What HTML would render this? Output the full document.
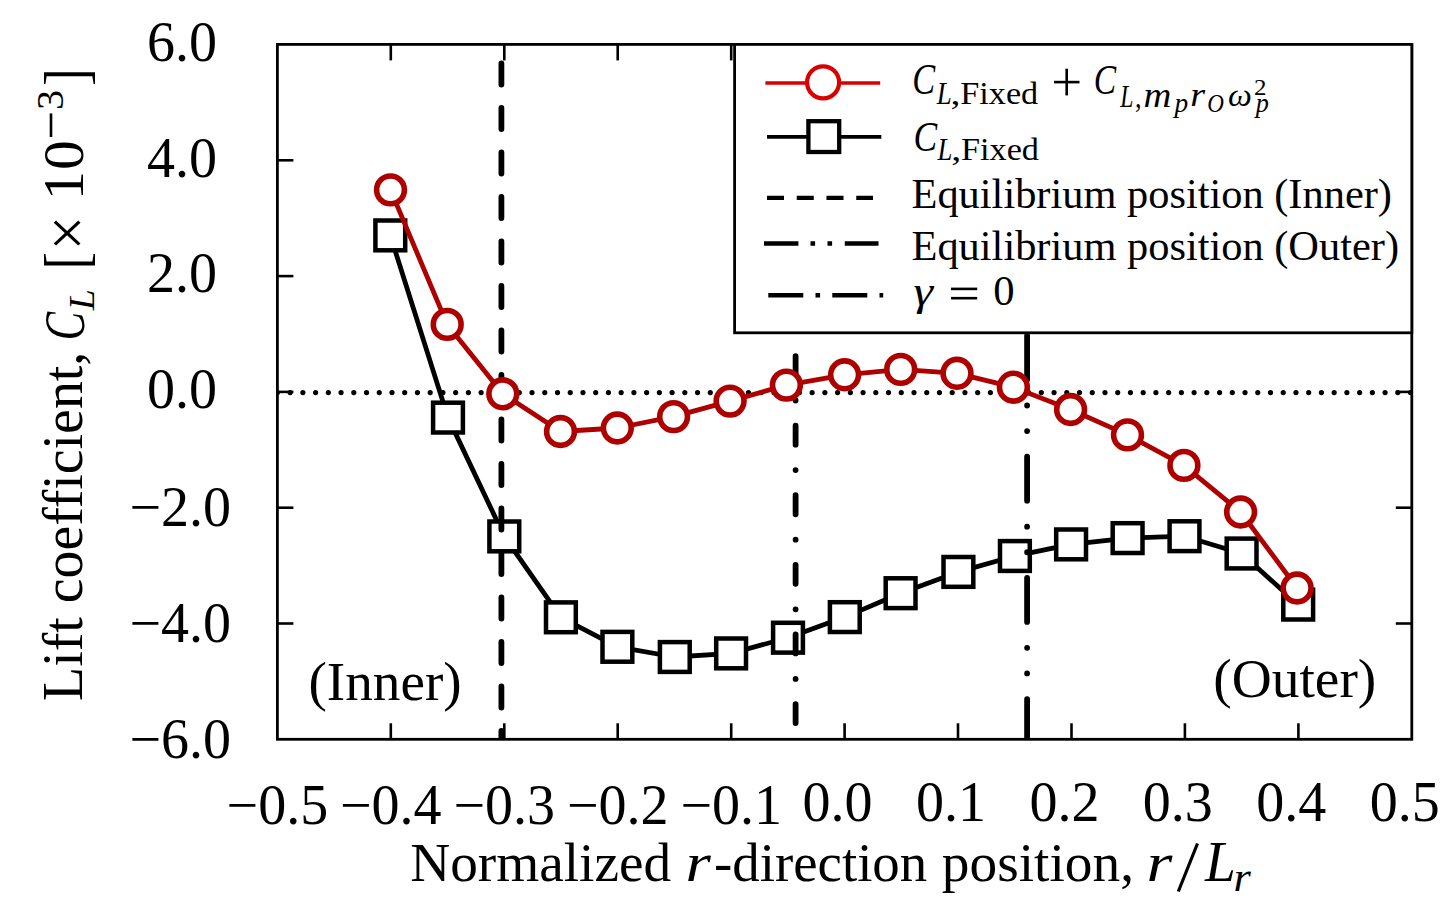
<!DOCTYPE html><html><head><meta charset="utf-8"><style>html,body{margin:0;padding:0;background:#fff;overflow:hidden;}svg{display:block;}text{font-family:"Liberation Serif",serif;fill:#000;}</style></head><body>
<svg width="1449" height="914" viewBox="0 0 1449 914">
<defs><clipPath id="pc"><rect x="277.4" y="44.4" width="1134.4" height="694.9"/></clipPath></defs>
<rect width="1449" height="914" fill="#fff"/>
<g clip-path="url(#pc)">
<line x1="277.4" y1="392.6" x2="1411.8" y2="392.6" stroke="#000" stroke-width="5.2" stroke-linecap="round" stroke-dasharray="0.01 12.722"/>
<polyline points="390.3,235.4 448.0,417.6 504.3,536.4 560.9,617.3 617.4,646.8 674.8,657.0 731.1,653.4 788.0,637.7 844.8,617.1 900.6,593.2 958.4,571.9 1014.9,556.0 1071.1,544.4 1127.6,538.1 1184.5,536.2 1241.6,553.5 1298.2,604.6" fill="none" stroke="#000" stroke-width="4.8" stroke-linejoin="round"/>
<rect x="375.4" y="220.5" width="29.8" height="29.8" fill="#fff" stroke="#000" stroke-width="4.5"/>
<rect x="433.1" y="402.7" width="29.8" height="29.8" fill="#fff" stroke="#000" stroke-width="4.5"/>
<rect x="489.4" y="521.5" width="29.8" height="29.8" fill="#fff" stroke="#000" stroke-width="4.5"/>
<rect x="546.0" y="602.4" width="29.8" height="29.8" fill="#fff" stroke="#000" stroke-width="4.5"/>
<rect x="602.5" y="631.9" width="29.8" height="29.8" fill="#fff" stroke="#000" stroke-width="4.5"/>
<rect x="659.9" y="642.1" width="29.8" height="29.8" fill="#fff" stroke="#000" stroke-width="4.5"/>
<rect x="716.2" y="638.5" width="29.8" height="29.8" fill="#fff" stroke="#000" stroke-width="4.5"/>
<rect x="773.1" y="622.8" width="29.8" height="29.8" fill="#fff" stroke="#000" stroke-width="4.5"/>
<rect x="829.9" y="602.2" width="29.8" height="29.8" fill="#fff" stroke="#000" stroke-width="4.5"/>
<rect x="885.7" y="578.3" width="29.8" height="29.8" fill="#fff" stroke="#000" stroke-width="4.5"/>
<rect x="943.5" y="557.0" width="29.8" height="29.8" fill="#fff" stroke="#000" stroke-width="4.5"/>
<rect x="1000.0" y="541.1" width="29.8" height="29.8" fill="#fff" stroke="#000" stroke-width="4.5"/>
<rect x="1056.2" y="529.5" width="29.8" height="29.8" fill="#fff" stroke="#000" stroke-width="4.5"/>
<rect x="1112.7" y="523.2" width="29.8" height="29.8" fill="#fff" stroke="#000" stroke-width="4.5"/>
<rect x="1169.6" y="521.3" width="29.8" height="29.8" fill="#fff" stroke="#000" stroke-width="4.5"/>
<rect x="1226.7" y="538.6" width="29.8" height="29.8" fill="#fff" stroke="#000" stroke-width="4.5"/>
<rect x="1283.3" y="589.7" width="29.8" height="29.8" fill="#fff" stroke="#000" stroke-width="4.5"/>
<line x1="501.4" y1="63.5" x2="501.4" y2="742.3" stroke="#000" stroke-width="5.8" stroke-linecap="round" stroke-dasharray="21 23.5"/>
<line x1="795.6" y1="77.65" x2="795.6" y2="739.3" stroke="#000" stroke-width="5.8" stroke-linecap="round" stroke-dasharray="19 25.45 0.01 25.14"/>
<line x1="1027.1" y1="93.15" x2="1027.1" y2="742.3" stroke="#000" stroke-width="5.8" stroke-linecap="round" stroke-dasharray="44 25.95 0.01 25.59 0.01 25.63"/>
<polyline points="390.5,189.9 447.2,324.4 502.8,393.8 560.5,431.5 617.3,428.0 673.6,416.6 730.1,401.1 786.4,385.1 844.6,374.8 900.7,369.4 957.0,373.3 1013.4,387.2 1070.6,409.5 1127.5,434.9 1183.9,465.4 1240.6,512.0 1297.1,588.0" fill="none" stroke="#af0000" stroke-width="4.8" stroke-linejoin="round"/>
<circle cx="390.5" cy="189.9" r="13.9" fill="#fff" stroke="#af0000" stroke-width="5.6"/>
<circle cx="447.2" cy="324.4" r="13.9" fill="#fff" stroke="#af0000" stroke-width="5.6"/>
<circle cx="502.8" cy="393.8" r="13.9" fill="#fff" stroke="#af0000" stroke-width="5.6"/>
<circle cx="560.5" cy="431.5" r="13.9" fill="#fff" stroke="#af0000" stroke-width="5.6"/>
<circle cx="617.3" cy="428.0" r="13.9" fill="#fff" stroke="#af0000" stroke-width="5.6"/>
<circle cx="673.6" cy="416.6" r="13.9" fill="#fff" stroke="#af0000" stroke-width="5.6"/>
<circle cx="730.1" cy="401.1" r="13.9" fill="#fff" stroke="#af0000" stroke-width="5.6"/>
<circle cx="786.4" cy="385.1" r="13.9" fill="#fff" stroke="#af0000" stroke-width="5.6"/>
<circle cx="844.6" cy="374.8" r="13.9" fill="#fff" stroke="#af0000" stroke-width="5.6"/>
<circle cx="900.7" cy="369.4" r="13.9" fill="#fff" stroke="#af0000" stroke-width="5.6"/>
<circle cx="957.0" cy="373.3" r="13.9" fill="#fff" stroke="#af0000" stroke-width="5.6"/>
<circle cx="1013.4" cy="387.2" r="13.9" fill="#fff" stroke="#af0000" stroke-width="5.6"/>
<circle cx="1070.6" cy="409.5" r="13.9" fill="#fff" stroke="#af0000" stroke-width="5.6"/>
<circle cx="1127.5" cy="434.9" r="13.9" fill="#fff" stroke="#af0000" stroke-width="5.6"/>
<circle cx="1183.9" cy="465.4" r="13.9" fill="#fff" stroke="#af0000" stroke-width="5.6"/>
<circle cx="1240.6" cy="512.0" r="13.9" fill="#fff" stroke="#af0000" stroke-width="5.6"/>
<circle cx="1297.1" cy="588.0" r="13.9" fill="#fff" stroke="#af0000" stroke-width="5.6"/>
</g>
<rect x="277.4" y="44.4" width="1134.4" height="694.9" fill="none" stroke="#000" stroke-width="2.8"/>
<line x1="390.8" y1="44.4" x2="390.8" y2="60.4" stroke="#000" stroke-width="2.6"/>
<line x1="390.8" y1="739.3" x2="390.8" y2="723.3" stroke="#000" stroke-width="2.6"/>
<line x1="504.3" y1="44.4" x2="504.3" y2="60.4" stroke="#000" stroke-width="2.6"/>
<line x1="504.3" y1="739.3" x2="504.3" y2="723.3" stroke="#000" stroke-width="2.6"/>
<line x1="617.7" y1="44.4" x2="617.7" y2="60.4" stroke="#000" stroke-width="2.6"/>
<line x1="617.7" y1="739.3" x2="617.7" y2="723.3" stroke="#000" stroke-width="2.6"/>
<line x1="731.2" y1="44.4" x2="731.2" y2="60.4" stroke="#000" stroke-width="2.6"/>
<line x1="731.2" y1="739.3" x2="731.2" y2="723.3" stroke="#000" stroke-width="2.6"/>
<line x1="844.6" y1="44.4" x2="844.6" y2="60.4" stroke="#000" stroke-width="2.6"/>
<line x1="844.6" y1="739.3" x2="844.6" y2="723.3" stroke="#000" stroke-width="2.6"/>
<line x1="958.0" y1="44.4" x2="958.0" y2="60.4" stroke="#000" stroke-width="2.6"/>
<line x1="958.0" y1="739.3" x2="958.0" y2="723.3" stroke="#000" stroke-width="2.6"/>
<line x1="1071.5" y1="44.4" x2="1071.5" y2="60.4" stroke="#000" stroke-width="2.6"/>
<line x1="1071.5" y1="739.3" x2="1071.5" y2="723.3" stroke="#000" stroke-width="2.6"/>
<line x1="1184.9" y1="44.4" x2="1184.9" y2="60.4" stroke="#000" stroke-width="2.6"/>
<line x1="1184.9" y1="739.3" x2="1184.9" y2="723.3" stroke="#000" stroke-width="2.6"/>
<line x1="1298.4" y1="44.4" x2="1298.4" y2="60.4" stroke="#000" stroke-width="2.6"/>
<line x1="1298.4" y1="739.3" x2="1298.4" y2="723.3" stroke="#000" stroke-width="2.6"/>
<line x1="277.4" y1="623.5" x2="293.4" y2="623.5" stroke="#000" stroke-width="2.6"/>
<line x1="1411.8" y1="623.5" x2="1395.8" y2="623.5" stroke="#000" stroke-width="2.6"/>
<line x1="277.4" y1="507.7" x2="293.4" y2="507.7" stroke="#000" stroke-width="2.6"/>
<line x1="1411.8" y1="507.7" x2="1395.8" y2="507.7" stroke="#000" stroke-width="2.6"/>
<line x1="277.4" y1="391.9" x2="293.4" y2="391.9" stroke="#000" stroke-width="2.6"/>
<line x1="1411.8" y1="391.9" x2="1395.8" y2="391.9" stroke="#000" stroke-width="2.6"/>
<line x1="277.4" y1="276.1" x2="293.4" y2="276.1" stroke="#000" stroke-width="2.6"/>
<line x1="1411.8" y1="276.1" x2="1395.8" y2="276.1" stroke="#000" stroke-width="2.6"/>
<line x1="277.4" y1="160.3" x2="293.4" y2="160.3" stroke="#000" stroke-width="2.6"/>
<line x1="1411.8" y1="160.3" x2="1395.8" y2="160.3" stroke="#000" stroke-width="2.6"/>
<text x="217.1" y="60.8" font-size="56" text-anchor="end">6.0</text>
<text x="217.1" y="176.6" font-size="56" text-anchor="end">4.0</text>
<text x="217.1" y="292.4" font-size="56" text-anchor="end">2.0</text>
<text x="217.1" y="408.2" font-size="56" text-anchor="end">0.0</text>
<text x="231.1" y="526.2" font-size="56" text-anchor="end">−2.0</text>
<text x="231.1" y="642.0" font-size="56" text-anchor="end">−4.0</text>
<text x="231.1" y="757.8" font-size="56" text-anchor="end">−6.0</text>
<text x="277.4" y="823.6" font-size="56" text-anchor="middle">−0.5</text>
<text x="390.8" y="823.6" font-size="56" text-anchor="middle">−0.4</text>
<text x="504.3" y="823.6" font-size="56" text-anchor="middle">−0.3</text>
<text x="617.7" y="823.6" font-size="56" text-anchor="middle">−0.2</text>
<text x="731.2" y="823.6" font-size="56" text-anchor="middle">−0.1</text>
<text x="837.5" y="821.4" font-size="56" text-anchor="middle">0.0</text>
<text x="950.9" y="821.4" font-size="56" text-anchor="middle">0.1</text>
<text x="1064.4" y="821.4" font-size="56" text-anchor="middle">0.2</text>
<text x="1177.8" y="821.4" font-size="56" text-anchor="middle">0.3</text>
<text x="1291.3" y="821.4" font-size="56" text-anchor="middle">0.4</text>
<text x="1404.7" y="821.4" font-size="56" text-anchor="middle">0.5</text>
<text transform="translate(410.24,880.70) scale(0.996,1)" font-size="55.50" font-style="normal">Normalized</text>
<text transform="translate(685.49,880.70) scale(1.174,1)" font-size="55.50" font-style="italic">r</text>
<text transform="translate(714.08,880.70) scale(0.988,1)" font-size="55.50" font-style="normal">-direction</text>
<text transform="translate(941.87,880.70) scale(0.997,1)" font-size="55.50" font-style="normal">position,</text>
<text transform="translate(1146.54,880.70) scale(1.199,1)" font-size="55.50" font-style="italic">r</text>
<line x1="1178.3" y1="891.5" x2="1197.5" y2="843.5" stroke="#000" stroke-width="3.2"/>
<text transform="translate(1204.95,881.40) scale(0.989,1)" font-size="56.00" font-style="italic">L</text>
<text transform="translate(1233.52,890.80) scale(1.108,1)" font-size="40.21" font-style="italic">r</text>
<text transform="translate(82.20,700.97) rotate(-90) scale(0.997,1)" font-size="56.00" font-style="normal">Lift coefficient,</text>
<text transform="translate(83.72,340.34) rotate(-90) scale(0.737,1)" font-size="57.76" font-style="italic">C</text>
<text transform="translate(93.90,310.22) rotate(-90) scale(1.042,1)" font-size="36.18" font-style="italic">L</text>
<text transform="translate(87.09,269.35) rotate(-90) scale(0.834,1)" font-size="61.57" font-style="normal">[</text>
<text transform="translate(88.51,250.44) rotate(-90) scale(0.943,1)" font-size="65.43" font-style="normal">×</text>
<text transform="translate(83.00,200.27) rotate(-90) scale(1.028,1)" font-size="57.00" font-style="normal">1</text>
<text transform="translate(83.00,169.89) rotate(-90) scale(1.048,1)" font-size="57.00" font-style="normal">0</text>
<line x1="51" y1="137" x2="51" y2="113.4" stroke="#000" stroke-width="2.6"/>
<text transform="translate(62.81,110.11) rotate(-90) scale(1.033,1)" font-size="38.96" font-style="normal">3</text>
<text transform="translate(86.72,85.82) rotate(-90) scale(0.838,1)" font-size="62.05" font-style="normal">]</text>
<text transform="translate(308.42,700.40) scale(0.993,1)" font-size="55.60" font-style="normal">(Inner)</text>
<text transform="translate(1213.20,696.80) scale(0.997,1)" font-size="55.60" font-style="normal">(Outer)</text>
<rect x="734.6" y="44.4" width="677.2" height="288.4" fill="#fff" stroke="#000" stroke-width="2.8"/>
<line x1="765.4" y1="83" x2="880.2" y2="83" stroke="#da0000" stroke-width="3.6"/>
<circle cx="823.1" cy="82.4" r="16" fill="#fff" stroke="#da0000" stroke-width="4.2"/>
<line x1="767" y1="136.8" x2="881.3" y2="136.8" stroke="#000" stroke-width="3.8"/>
<rect x="808.4" y="121.2" width="30.8" height="30.8" fill="#fff" stroke="#000" stroke-width="4.3"/>
<line x1="767" y1="197.8" x2="873" y2="197.8" stroke="#000" stroke-width="4.2" stroke-dasharray="17 12.75"/>
<line x1="764" y1="243.5" x2="878.5" y2="243.5" stroke="#000" stroke-width="4.6" stroke-dasharray="34.4 12.1 4.6 12.4 4.6 12.7"/>
<line x1="768.3" y1="295.2" x2="883.2" y2="295.2" stroke="#000" stroke-width="4.6" stroke-dasharray="35 12.2 4.6 12.2"/>
<text transform="translate(912.31,94.46) scale(0.780,1)" font-size="44.03" font-style="italic">C</text>
<text transform="translate(936.77,104.10) scale(0.882,1)" font-size="30.53" font-style="italic">L</text>
<text transform="translate(950.50,104.10) scale(1.270,1)" font-size="31.50" font-style="normal">,</text>
<text transform="translate(960.37,104.10) scale(1.056,1)" font-size="32.37" font-style="normal">Fixed</text>
<line x1="1054" y1="82.1" x2="1079.5" y2="82.1" stroke="#000" stroke-width="2.6"/>
<line x1="1066.7" y1="68.7" x2="1066.7" y2="95.4" stroke="#000" stroke-width="2.6"/>
<text transform="translate(1093.85,93.97) scale(0.780,1)" font-size="42.99" font-style="italic">C</text>
<text transform="translate(1120.14,106.50) scale(0.756,1)" font-size="31.30" font-style="italic">L</text>
<text transform="translate(1134.95,106.50) scale(0.832,1)" font-size="31.50" font-style="normal">,</text>
<text transform="translate(1143.45,106.50) scale(1.093,1)" font-size="35.32" font-style="italic">m</text>
<text transform="translate(1174.54,111.82) scale(1.019,1)" font-size="26.86" font-style="italic">p</text>
<text transform="translate(1190.18,105.90) scale(1.116,1)" font-size="34.04" font-style="italic">r</text>
<text transform="translate(1207.15,111.74) scale(0.899,1)" font-size="25.67" font-style="italic">O</text>
<text transform="translate(1228.02,106.18) scale(1.045,1)" font-size="32.29" font-style="italic">ω</text>
<text transform="translate(1254.08,94.90) scale(1.100,1)" font-size="22.73" font-style="normal">2</text>
<text transform="translate(1255.67,111.82) scale(0.976,1)" font-size="26.86" font-style="italic">p</text>
<text transform="translate(913.45,150.67) scale(0.825,1)" font-size="42.99" font-style="italic">C</text>
<text transform="translate(937.47,160.30) scale(0.875,1)" font-size="30.53" font-style="italic">L</text>
<text transform="translate(951.20,160.30) scale(1.270,1)" font-size="31.50" font-style="normal">,</text>
<text transform="translate(960.97,160.30) scale(1.058,1)" font-size="32.37" font-style="normal">Fixed</text>
<text transform="translate(911.53,208.10) scale(0.998,1)" font-size="42.50" font-style="normal">Equilibrium position (Inner)</text>
<text transform="translate(911.53,260.30) scale(0.998,1)" font-size="42.50" font-style="normal">Equilibrium position (Outer)</text>
<text transform="translate(913.51,304.92) scale(1.175,1)" font-size="42.22" font-style="italic">γ</text>
<line x1="951" y1="288.9" x2="977.2" y2="288.9" stroke="#000" stroke-width="2.6"/>
<line x1="951" y1="298.2" x2="977.2" y2="298.2" stroke="#000" stroke-width="2.6"/>
<text transform="translate(993.30,305.39) scale(1.035,1)" font-size="41.19" font-style="normal">0</text>
</svg></body></html>
